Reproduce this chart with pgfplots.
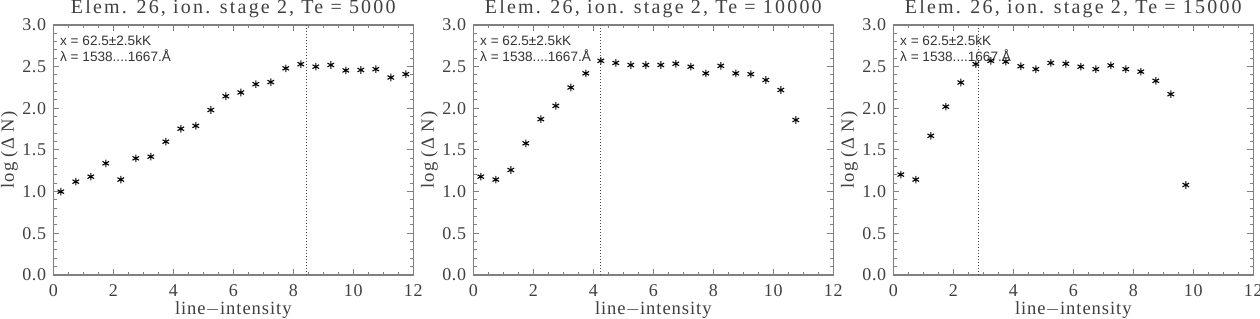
\documentclass[border=0pt]{standalone}
\usepackage{fontspec}
\setmainfont{Liberation Serif}
\newfontfamily\annfont{Liberation Sans}
\usepackage{pgfplots}
\pgfplotsset{compat=1.18}

\pgfplotstableread{
x y
0.25 1.00
0.75 1.12
1.25 1.18
1.75 1.34
2.25 1.145
2.75 1.40
3.25 1.42
3.75 1.60
4.25 1.755
4.75 1.79
5.25 1.98
5.75 2.145
6.25 2.19
6.75 2.29
7.25 2.315
7.75 2.48
8.25 2.53
8.75 2.50
9.25 2.52
9.75 2.455
10.25 2.46
10.75 2.47
11.25 2.37
11.75 2.41
}\tabA

\pgfplotstableread{
x y
0.25 1.18
0.75 1.145
1.25 1.26
1.75 1.58
2.25 1.87
2.75 2.03
3.25 2.25
3.75 2.42
4.25 2.57
4.75 2.545
5.25 2.52
5.75 2.52
6.25 2.52
6.75 2.535
7.25 2.50
7.75 2.42
8.25 2.51
8.75 2.42
9.25 2.41
9.75 2.34
10.25 2.22
10.75 1.86
}\tabB

\pgfplotstableread{
x y
0.25 1.205
0.75 1.145
1.25 1.67
1.75 2.02
2.25 2.31
2.75 2.53
3.25 2.57
3.75 2.56
4.25 2.505
4.75 2.47
5.25 2.545
5.75 2.535
6.25 2.50
6.75 2.47
7.25 2.515
7.75 2.47
8.25 2.44
8.75 2.33
9.25 2.17
9.75 1.08
}\tabC

\pgfplotsset{
  every axis title/.style={font=\fontsize{10}{12}\selectfont\addfontfeature{LetterSpace=11}, text=black!75,
      at={(axis description cs:0.5,1.044)}, anchor=base, inner sep=0pt},
  every axis x label/.style={font=\fontsize{9.3}{11}\selectfont\addfontfeature{LetterSpace=5}, text=black!75,
      at={(axis description cs:0.5,-0.157)}, anchor=base, inner sep=0pt},
  every axis y label/.style={font=\fontsize{9.3}{11}\selectfont\addfontfeature{LetterSpace=5}, text=black!75,
      at={(axis description cs:-0.1222,0.5)}, anchor=center, rotate=90, inner sep=0pt},
  panel/.style={
    scale only axis, width=180pt, height=125pt,
    xmin=0, xmax=12, ymin=0, ymax=3.0,
    xtick={0,2,...,12}, ytick={0,0.5,1,1.5,2,2.5,3},
    minor xtick={0,0.5,...,12},
    minor ytick={0,0.1,...,3.0},
    tick align=inside,
    major tick length=3pt, minor tick length=1.6pt,
    axis line style={black!50, line width=0.6pt},
    every tick/.style={black!50, line width=0.5pt},
    /pgf/number format/assume math mode=true,
    yticklabel style={/pgf/number format/.cd, fixed, fixed zerofill, precision=1},
    ticklabel style={font=\fontsize{9}{10}\selectfont\addfontfeature{LetterSpace=4}, text=black!75},
    xticklabel style={anchor=base, yshift=-11pt, inner sep=0pt},
    xlabel={line$-$intensity},
    ylabel={log (Δ N)},
  },
  pts/.style={only marks, mark=asterisk, mark size=1.9pt, black, line width=0.55pt},
  vline/.style={black!70, densely dotted, line width=0.5pt},
}

\newcommand{\annot}{%
  \node[font=\annfont\fontsize{6.8}{8}\selectfont, text=black!80, anchor=base west, inner sep=0pt]
    at (axis description cs:0.018,0.917) {x = 62.5±2.5kK};
  \node[font=\annfont\fontsize{6.8}{8}\selectfont, text=black!80, anchor=base west, inner sep=0pt]
    at (axis description cs:0.018,0.855) {λ = 1538....1667.Å};
}

\begin{document}
\begin{tikzpicture}
\path[use as bounding box] (0,0) rectangle (630pt,159.5pt);

\begin{axis}[panel, at={(26.65pt,22pt)}, anchor=south west,
  title={Elem. 26, ion. stage 2, Te = 5000}]
\addplot[pts] table[x=x,y=y] {\tabA};
\addplot[vline] coordinates {(8.45,0) (8.45,3)};
\annot
\end{axis}

\begin{axis}[panel, at={(236.65pt,22pt)}, anchor=south west,
  title={Elem. 26, ion. stage 2, Te = 10000}]
\addplot[pts] table[x=x,y=y] {\tabB};
\addplot[vline] coordinates {(4.23,0) (4.23,3)};
\annot
\end{axis}

\begin{axis}[panel, at={(446.65pt,22pt)}, anchor=south west,
  title={Elem. 26, ion. stage 2, Te = 15000}]
\addplot[pts] table[x=x,y=y] {\tabC};
\addplot[vline] coordinates {(2.83,0) (2.83,3)};
\annot
\end{axis}
\end{tikzpicture}
\end{document}
